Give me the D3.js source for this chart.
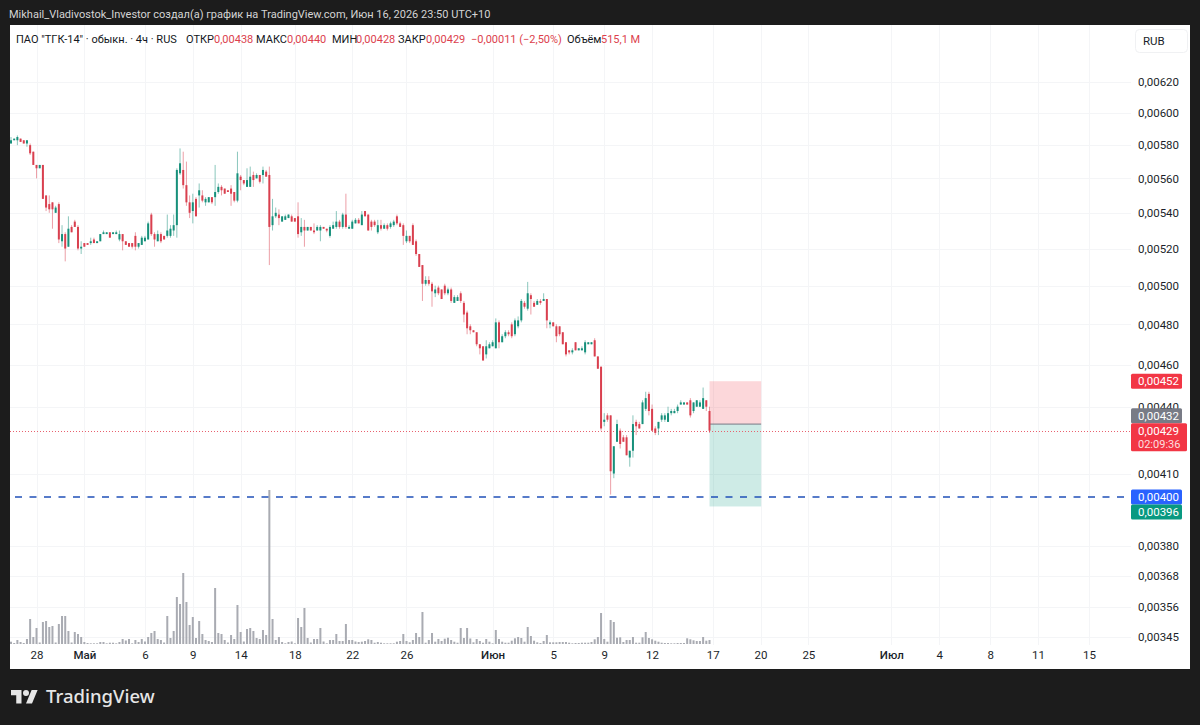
<!DOCTYPE html>
<html lang="ru">
<head>
<meta charset="utf-8">
<title>ПАО "ТГК-14" · 4ч</title>
<script src="https://cdn.jsdelivr.net/npm/d3@7"></script>
<style>
  html, body { margin: 0; padding: 0; background: #1c1c1c; }
  svg { display: block; }
  text { font-family: Roboto, "Open Sans", sans-serif; }
</style>
</head>
<body>
<svg id="chart" width="1200" height="725"></svg>
<script>
// Prices are kept in 1e-5 RUB, the instrument's tick size; volumes in millions of shares.
const opens = [
  581,583,583,584,583,581,580,576,568,566, 568,550,545,546,540,545,524,528,521,532,
  535,532,520,523,523,523,525,523,524,528, 528,529,528,528,525,528,524,523,523,527,
  521,522,524,525,539,528,524,528,527,527, 527,530,533,563,565,556,546,541,548,550,
  550,546,546,549,549,552,555,554,553,554, 552,547,561,559,555,555,562,560,562,562,
  564,562,533,538,539,535,536,537,538,537, 538,529,532,530,532,530,530,530,532,531,
  527,531,532,535,532,539,531,531,534,536, 533,541,539,535,535,529,533,531,533,532,
  533,538,534,533,524,527,533,524,517,511, 501,503,501,496,499,498,500,496,498,491,
  492,496,491,486,479,477,476,470,469,465, 468,469,468,481,471,474,476,480,475,479,
  482,491,488,495,491,490,492,492,493,480, 481,479,479,476,471,467,466,471,467,467,
  466,470,470,472,464,459,433,436,436,410, 424,429,426,426,417,420,433,432,432,439,
  446,439,430,430,434,434,433,437,437,438, 441,441,442,443,438,440,440,439,443,438
];
const highs = [
  585,584,586,584,583,583,581,576,568,568, 568,550,550,546,544,546,533,529,538,533,
  536,533,524,523,523,526,526,524,528,530, 529,529,529,530,530,528,524,523,523,529,
  523,527,527,535,540,529,530,529,527,539, 533,539,566,578,576,570,550,551,549,557,
  553,549,549,549,568,557,556,554,553,556, 552,576,562,559,566,567,564,563,562,567,
  565,567,548,543,542,538,539,539,539,537, 546,537,536,532,532,534,533,533,532,531,
  533,535,541,536,540,551,533,536,537,537, 541,541,539,536,536,536,536,534,534,535,
  536,539,535,534,530,527,534,525,517,511, 505,505,502,500,500,498,501,499,499,495,
  495,497,492,487,480,477,476,470,469,472, 471,472,483,482,475,477,477,481,483,484,
  493,492,502,496,492,493,493,496,493,482, 481,480,479,476,471,467,468,471,468,469,
  472,471,471,473,464,459,437,437,436,422, 434,430,427,427,420,436,434,433,443,447,
  447,441,431,433,437,437,440,439,439,441, 443,442,442,444,442,443,443,449,443,440
];
const lows = [
  581,583,580,582,581,579,574,568,560,566, 548,541,540,531,540,523,521,513,521,529,
  532,519,517,521,522,522,523,523,524,528, 528,526,528,528,524,519,522,521,520,519,
  520,522,524,525,527,521,524,523,525,526, 526,527,526,562,554,544,537,534,538,543,
  546,544,546,545,544,551,550,551,552,544, 546,546,553,556,555,555,555,560,557,557,
  561,511,530,537,533,535,536,537,535,535, 526,527,521,530,530,528,530,524,531,529,
  526,531,531,531,531,531,531,531,534,534, 533,538,530,530,532,528,530,531,530,531,
  532,533,532,522,523,523,522,516,510,492, 500,500,489,494,495,493,495,495,491,491,
  492,491,481,475,475,476,469,465,462,463, 468,469,468,468,471,473,474,473,474,478,
  481,488,487,485,489,490,490,492,478,478, 479,471,474,470,464,465,465,467,467,467,
  465,470,470,464,458,429,431,433,401,408, 424,421,424,418,413,417,427,430,432,438,
  436,429,427,427,433,433,433,436,437,437, 441,441,441,435,437,440,440,439,438,428
];
const closes = [
  583,584,585,582,581,583,575,568,566,568, 548,543,542,542,543,525,528,520,531,529,
  532,520,521,521,522,524,523,524,528,529, 529,526,529,529,528,524,522,521,521,521,
  523,526,526,534,528,525,528,524,525,530, 531,533,565,569,556,546,540,546,538,553,
  547,548,549,546,552,555,553,551,552,551, 547,563,559,557,559,561,559,562,558,565,
  561,532,538,540,537,538,538,539,535,535, 528,532,530,532,530,529,532,532,531,530,
  532,533,535,532,539,532,532,535,536,534, 539,538,530,532,533,533,531,533,531,534,
  535,534,532,527,527,524,522,517,510,501, 503,501,497,498,496,493,496,498,492,494,
  494,492,485,478,477,476,470,468,462,469, 470,471,481,471,474,476,475,474,482,482,
  492,489,496,493,489,492,491,493,482,481, 479,474,475,470,465,466,467,467,468,468,
  471,471,471,464,458,430,434,434,411,422, 432,423,424,418,420,432,431,430,442,444,
  438,429,428,433,436,436,437,438,438,440, 442,442,441,436,442,443,442,444,440,429
];
const volumes = [
  297,129,516,258,129,645,3225,903,2064,194, 2838,2967,2193,2322,194,2580,3612,3612,1677,194,
  1548,1290,903,258,129,90,90,90,258,258, 90,168,168,90,258,645,452,645,90,516,
  258,645,323,903,1419,1677,645,516,194,3612, 774,1677,6063,5160,9159,5418,2451,3483,774,2967,
  1290,516,387,258,7224,1419,1290,516,194,1161, 645,5031,1548,323,1935,2064,1677,774,645,1806,
  1161,19866,3225,516,903,258,90,258,323,90, 3354,2193,4644,774,194,645,645,2064,323,90,
  516,516,1290,387,387,2580,516,516,323,258, 297,387,606,516,168,258,168,90,90,90,
  90,297,387,1290,387,219,516,1419,903,4128, 168,516,1419,297,645,387,684,813,516,297,
  168,2064,774,2064,710,219,645,387,168,645, 297,90,1806,645,297,168,168,426,735,903,
  774,297,2193,1032,426,219,129,387,1161,219, 219,219,258,258,258,168,90,129,129,168,
  168,168,258,606,903,3999,645,297,3096,2838, 813,864,258,516,516,903,168,168,864,1548,
  774,606,426,297,168,129,129,90,90,129, 129,129,735,606,477,387,387,903,426,515.1
];

const priceTicks = [620,600,580,560,540,520,500,480,460,440,410,380,368,356,345];
const timeTicks = [8,23,42,57,72,89,107,124,151,170,186,201,220,235,250,276,291,307,322,338];
const timeLabels = ["28","Май","6","9","14","18","22","26","Июн","5","9","12","17","20","25","Июл","4","8","11","15"];
const monthLabels = ["Май","Июн","Июл"];

const takeProfitLevel = 396, entryLevel = 432, stopLevel = 452, supportLevel = 400;
const positionStart = 219, positionEnd = 235.2;
const lastClose = 429, countdown = "02:09:36";

const headerText = 'Mikhail_Vladivostok_Investor создал(а) график на TradingView.com, Июн 16, 2026 23:50 UTC+10';
const legendItems = [
  { label: 'ПАО "ТГК-14" · обыкн. · 4ч · RUS', at: 16, color: "#131722" },
  { label: "ОТКР", at: 186, color: "#131722" }, { label: "0,00438", at: 214, color: "#dc3f4d" },
  { label: "МАКС", at: 256, color: "#131722" }, { label: "0,00440", at: 287, color: "#dc3f4d" },
  { label: "МИН", at: 332, color: "#131722" }, { label: "0,00428", at: 356, color: "#dc3f4d" },
  { label: "ЗАКР", at: 398, color: "#131722" }, { label: "0,00429", at: 426, color: "#dc3f4d" },
  { label: "−0,00011 (−2,50%)", at: 471, color: "#dc3f4d" },
  { label: "Объём", at: 567, color: "#131722" }, { label: "515,1 M", at: 601, color: "#dc3f4d" }
];

const UP = "#089981", DOWN = "#f23645", CANDLE_UP = "#17907b", CANDLE_DOWN = "#d9404f";
const GRID = "#f4f5f7", INK = "#1b1f2a";
const pane = { left: 10, right: 1190, top: 25, bottom: 669, axisAt: 1131 };

const svg = d3.select("#chart");
const fmtPrice = v => (v / 1e5).toFixed(5).replace(".", ",");

const x = d3.scaleLinear().domain([0, opens.length - 1]).range([11, 709.5]);
const y = d3.scaleLog().domain([345, 620]).range([637, 82]);
const yVol = d3.scaleLinear().domain([0, 19866]).range([644, 490]);

// Pane background
svg.append("rect").attr("x", pane.left).attr("y", pane.top)
  .attr("width", pane.right - pane.left).attr("height", pane.bottom - pane.top)
  .attr("fill", "#fff");

// Grid
const grid = svg.append("g").attr("stroke", GRID).attr("stroke-width", 1);
grid.selectAll(".h").data(priceTicks).join("line")
  .attr("x1", pane.left).attr("x2", pane.axisAt)
  .attr("y1", d => Math.round(y(d)) + 0.5).attr("y2", d => Math.round(y(d)) + 0.5);
grid.selectAll(".v").data(timeTicks).join("line")
  .attr("y1", pane.top).attr("y2", 645)
  .attr("x1", d => Math.round(x(d)) + 0.5).attr("x2", d => Math.round(x(d)) + 0.5);

// Volume histogram
svg.append("g").selectAll("rect").data(volumes).join("rect")
  .attr("x", (d, i) => x(i) - 1).attr("width", 2)
  .attr("y", d => yVol(d)).attr("height", d => yVol(0) - yVol(d))
  .attr("fill", "#a9abb2");

// Short position tool: risk and reward zones either side of the entry
const tool = svg.append("g");
tool.append("rect").attr("x", x(positionStart)).attr("width", x(positionEnd) - x(positionStart))
  .attr("y", y(stopLevel)).attr("height", y(entryLevel) - y(stopLevel))
  .attr("fill", DOWN).attr("fill-opacity", 0.2);
tool.append("rect").attr("x", x(positionStart)).attr("width", x(positionEnd) - x(positionStart))
  .attr("y", y(entryLevel)).attr("height", y(takeProfitLevel) - y(entryLevel))
  .attr("fill", UP).attr("fill-opacity", 0.2);
tool.append("line").attr("x1", x(positionStart)).attr("x2", x(positionEnd))
  .attr("y1", y(entryLevel)).attr("y2", y(entryLevel))
  .attr("stroke", "#787b86").attr("stroke-width", 1);

// Last price and support lines
svg.append("line").attr("x1", pane.left).attr("x2", pane.axisAt)
  .attr("y1", Math.round(y(lastClose)) + 0.5).attr("y2", Math.round(y(lastClose)) + 0.5)
  .attr("stroke", "#e8616e").attr("stroke-dasharray", "1 2");
svg.append("line").attr("x1", pane.left).attr("x2", pane.axisAt)
  .attr("y1", y(supportLevel)).attr("y2", y(supportLevel))
  .attr("stroke", "#2050b8").attr("stroke-width", 1.6)
  .attr("stroke-dasharray", "7 7.5").attr("stroke-dashoffset", 9.5);

// Candles
const candles = svg.append("g").selectAll("g").data(opens).join("g")
  .attr("fill", (d, i) => closes[i] >= d ? CANDLE_UP : CANDLE_DOWN)
  .attr("stroke", (d, i) => closes[i] >= d ? CANDLE_UP : CANDLE_DOWN);
candles.append("line")
  .attr("x1", (d, i) => x(i)).attr("x2", (d, i) => x(i))
  .attr("y1", (d, i) => y(highs[i])).attr("y2", (d, i) => y(lows[i]))
  .attr("stroke-width", 1).attr("stroke-opacity", 0.5);
candles.append("rect").attr("stroke", "none")
  .attr("x", (d, i) => x(i) - 1).attr("width", 2)
  .attr("y", (d, i) => Math.min(y(d), y(closes[i])))
  .attr("height", (d, i) => Math.max(1, Math.abs(y(d) - y(closes[i]))));

// Price axis
const priceAxis = svg.append("g").attr("transform", `translate(${pane.axisAt + 7},0)`)
  .call(d3.axisRight(y).tickValues(priceTicks).tickFormat(fmtPrice).tickSize(0).tickPadding(0));
priceAxis.select(".domain").remove();
priceAxis.selectAll("text").attr("fill", INK).style("font-size", "11.5px")
  .style("font-family", "Roboto, sans-serif");

// Time axis
const timeAxis = svg.append("g").attr("transform", "translate(0,651)")
  .call(d3.axisBottom(x).tickValues(timeTicks).tickFormat((d, i) => timeLabels[i]).tickSize(0).tickPadding(0));
timeAxis.select(".domain").remove();
timeAxis.selectAll("text").attr("fill", INK).style("font-size", "11.5px")
  .style("font-family", "Roboto, sans-serif")
  .style("font-weight", (d, i) => monthLabels.includes(timeLabels[i]) ? 500 : 400);

// Price tags on the axis; the labels that would collide are stacked against their neighbour
const tagH = 15;
const closeTop = y(lastClose) - tagH / 2;
const supportCentre = y(supportLevel);
const tags = [
  { text: fmtPrice(stopLevel), fill: "#f23645", cy: y(stopLevel) },
  { text: fmtPrice(entryLevel), fill: "#787b86", cy: closeTop - tagH / 2 },
  { text: fmtPrice(supportLevel), fill: "#2962ff", cy: supportCentre },
  { text: fmtPrice(takeProfitLevel), fill: "#089981", cy: supportCentre + tagH }
];
const tagG = svg.append("g");
tagG.selectAll("rect").data(tags).join("rect")
  .attr("x", pane.axisAt).attr("width", 51).attr("rx", 1.5)
  .attr("y", d => d.cy - tagH / 2).attr("height", tagH).attr("fill", d => d.fill);
tagG.selectAll("text").data(tags).join("text")
  .attr("x", pane.axisAt + 7).attr("y", d => d.cy).attr("dy", "0.35em")
  .attr("fill", "#fff").style("font-size", "11.5px").text(d => d.text);

// Last price tag with the candle countdown
svg.append("rect").attr("x", pane.axisAt).attr("y", closeTop).attr("width", 56).attr("height", 28)
  .attr("rx", 1.5).attr("fill", "#f23645");
svg.append("text").attr("x", pane.axisAt + 7).attr("y", closeTop + 7.5).attr("dy", "0.35em")
  .attr("fill", "#fff").style("font-size", "11.5px").text(fmtPrice(lastClose));
svg.append("text").attr("x", pane.axisAt + 7).attr("y", closeTop + 20.5).attr("dy", "0.35em")
  .attr("fill", "#fff").attr("fill-opacity", 0.85).style("font-size", "11px").text(countdown);

// Currency button
svg.append("rect").attr("x", 1135.5).attr("y", 29.5).attr("width", 52).attr("height", 23).attr("rx", 4)
  .attr("fill", "#fff").attr("stroke", "#f0f1f3");
svg.append("text").attr("x", 1143).attr("y", 41).attr("dy", "0.35em")
  .attr("fill", INK).style("font-size", "11.5px").text("RUB");

// Header and legend rows
svg.append("text").attr("x", 9).attr("y", 14).attr("dy", "0.35em")
  .attr("fill", "#d4d4d4").style("font-size", "11px").text(headerText);
svg.append("g").selectAll("text").data(legendItems).join("text")
  .attr("x", d => d.at).attr("y", 39).attr("dy", "0.35em")
  .attr("fill", d => d.color).style("font-size", "11px").text(d => d.label);

// Brand mark
const brand = svg.append("g").attr("transform", "translate(11,687) scale(0.75)").attr("fill", "#e6e6e6");
brand.append("path").attr("d", "M14 22H7V11H0V4h14v18zM28 22h-8l7.5-18h8L28 22z");
brand.append("circle").attr("cx", 20).attr("cy", 8).attr("r", 4);
svg.append("text").attr("x", 46).attr("y", 697).attr("dy", "0.35em")
  .attr("fill", "#e6e6e6").style("font-size", "18.5px").style("font-weight", 500)
  .style("font-family", '"Noto Sans", sans-serif').text("TradingView");
</script>
</body>
</html>
